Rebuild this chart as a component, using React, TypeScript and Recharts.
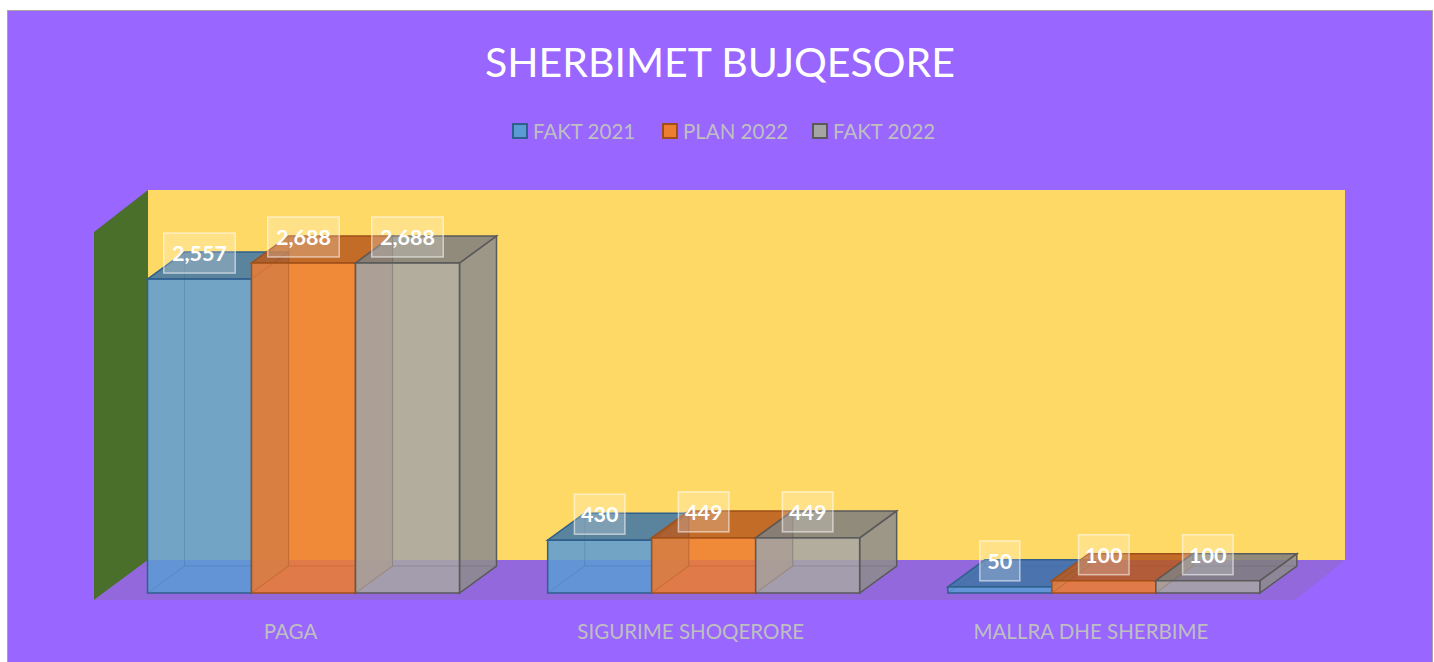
import { Bar, BarChart, LabelList, XAxis, YAxis } from "recharts";

const categories = ["PAGA", "SIGURIME SHOQERORE", "MALLRA DHE SHERBIME"];
const fakt2021 = [2557, 430, 50];
const plan2022 = [2688, 449, 100];
const fakt2022 = [2688, 449, 100];

const series = [
  { key: "fakt2021", name: "FAKT 2021", front: "#5B9BD5", top: "#3F76A8", side: "#4A84B8", stroke: "#2F5F8C" },
  { key: "plan2022", name: "PLAN 2022", front: "#ED7D31", top: "#B85A1E", side: "#C9682A", stroke: "#A04F18" },
  { key: "fakt2022", name: "FAKT 2022", front: "#A5A5A5", top: "#7E7E7E", side: "#8C8C8C", stroke: "#5A5A5A" }
];

const data = categories.map((name, i) => ({
  name,
  fakt2021: fakt2021[i],
  plan2022: plan2022[i],
  fakt2022: fakt2022[i]
}));

const W = 1434;
const H = 662;
const DX = 37;
const DY = 27;
const FONT = "Lato, 'Open Sans', sans-serif";

function make3DBar(s: (typeof series)[number]) {
  return (props: any) => {
    const { x, y, width: w, height: h } = props;
    if (w == null || h == null) return null;
    const op = 0.86;
    return (
      <g>
        <polygon
          points={`${x + w},${y} ${x + w + DX},${y - DY} ${x + w + DX},${y + h - DY} ${x + w},${y + h}`}
          fill={s.side}
          fillOpacity={op}
          stroke={s.stroke}
          strokeWidth={1.5}
        />
        <polygon
          points={`${x},${y} ${x + DX},${y - DY} ${x + w + DX},${y - DY} ${x + w},${y}`}
          fill={s.top}
          fillOpacity={op}
          stroke={s.stroke}
          strokeWidth={1.5}
        />
        <rect x={x} y={y} width={w} height={h} fill={s.front} fillOpacity={op} stroke={s.stroke} strokeWidth={1.5} />
        <path
          d={`M${x + DX},${y - DY} V${y + h - DY} H${x + w + DX} M${x + DX},${y + h - DY} L${x},${y + h}`}
          stroke={s.stroke}
          strokeOpacity={0.25}
          fill="none"
        />
      </g>
    );
  };
}

function renderLabel(props: any) {
  const { x, y, width, value } = props;
  const text = Number(value).toLocaleString("en-US");
  const bw = text.length * 10.5 + 19;
  const bh = 40;
  const cx = x + width / 2;
  const by = y - 6 - bh;
  return (
    <g>
      <rect x={cx - bw / 2} y={by} width={bw} height={bh} fill="#FFFFFF" fillOpacity={0.22} stroke="#FFFFFF" strokeOpacity={0.55} strokeWidth={1.5} />
      <text x={cx} y={by + bh / 2 + 8} textAnchor="middle" fill="#FFFFFF" fontFamily={FONT} fontWeight={700} fontSize={21.5}>
        {text}
      </text>
    </g>
  );
}

function XTick(props: any) {
  const { x, y, payload } = props;
  return (
    <text x={x - 13} y={y + 38} textAnchor="middle" fill="#BFBFBF" fontFamily={FONT} fontSize={20.5}>
      {payload.value}
    </text>
  );
}

export default function App() {
  return (
    <div style={{ position: "absolute", left: 0, top: 0, width: W, height: H }}>
      <svg width={W} height={H} style={{ position: "absolute", left: 0, top: 0 }}>
        <rect x={7.5} y={10.5} width={1425} height={660} fill="#9966FF" stroke="#A6A6A6" />
        <rect x={148} y={190} width={1197} height={370} fill="#FFD966" />
        <polygon points="94,232 148,190 148,560 94,600" fill="#4A6F2B" />
        <polygon points="94,600 1295,600 1345,560 148,560" fill="#9268DC" />
        <text x={720} y={77} textAnchor="middle" fill="#FFFFFF" fontFamily={FONT} fontSize={41}>
          SHERBIMET BUJQESORE
        </text>
        {series.map((s, i) => {
          const lx = 513 + i * 150;
          return (
            <g key={s.key}>
              <rect x={lx} y={124} width={14} height={14} fill={s.front} stroke={s.stroke} strokeWidth={2} />
              <text x={lx + 20} y={138.5} fill="#BFBFBF" fontFamily={FONT} fontSize={20.5}>
                {s.name}
              </text>
            </g>
          );
        })}
      </svg>
      <div style={{ position: "absolute", left: 0, top: 0 }}>
        <BarChart
          width={W}
          height={H}
          data={data}
          margin={{ top: 224.7, right: 130, bottom: 39, left: 103.5 }}
          barCategoryGap={44}
          barGap={0}
        >
          <XAxis dataKey="name" axisLine={false} tickLine={false} height={30} tick={<XTick />} interval={0} />
          <YAxis hide domain={[0, 3000]} />
          {series.map((s) => (
            <Bar key={s.key} dataKey={s.key} name={s.name} shape={make3DBar(s)} isAnimationActive={false}>
              <LabelList dataKey={s.key} content={renderLabel} />
            </Bar>
          ))}
        </BarChart>
      </div>
    </div>
  );
}
